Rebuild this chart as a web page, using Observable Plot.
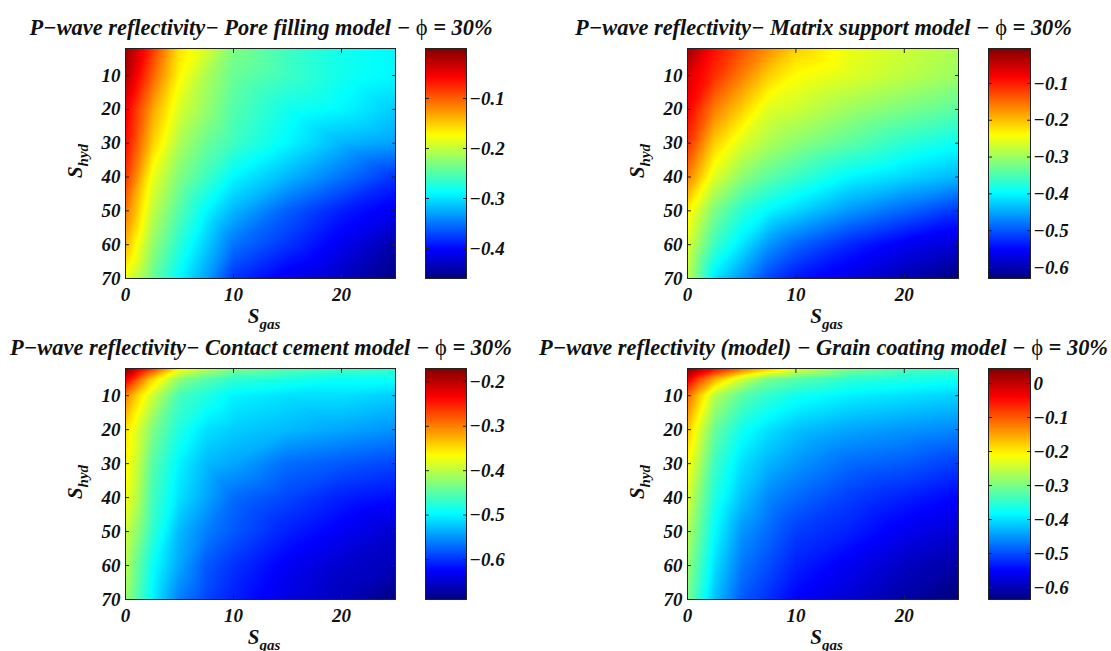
<!DOCTYPE html>
<html>
<head>
<meta charset="utf-8">
<script src="https://cdn.jsdelivr.net/npm/d3@7"></script>
<script src="https://cdn.jsdelivr.net/npm/@observablehq/plot@0.6"></script>
<style>
  html, body { margin: 0; padding: 0; background: #fff; }
  #root { position: relative; width: 1111px; height: 651px; overflow: hidden; background: #fff;
          font-family: "Liberation Serif", "DejaVu Serif", serif; font-weight: bold; font-style: italic; color: #111; }
  .title { position: absolute; font-size: 22.4px; white-space: nowrap; transform: translate(-50%, -50%); }
  .title .phi { font-style: normal; font-weight: normal; }
  .lab { position: absolute; font-size: 21px; white-space: nowrap; transform: translate(-50%, -50%); }
  .lab sub { font-size: 15px; vertical-align: -6px; }
  .rot { transform: translate(-50%, -50%) rotate(-90deg); }
</style>
</head>
<body>
<div id="root"></div>
<script>
// ---------- data ----------
// top panels: coarse grid
const sGasTop = [0, 2.5, 5, 7.5, 10, 15, 20, 25];          // S_gas (%)
const sHydTop = [2, 10, 20, 30, 40, 50, 60, 70];           // S_hyd (%)
// bottom panels: grid with extra samples near the sharp top-left corner
const sGasBottom = [0, 1, 2.5, 5, 7.5, 10, 15, 20, 25];
const sHydBottom = [2, 5, 10, 20, 30, 40, 50, 60, 70];

const poreFilling = [
  [-0.01, -0.08, -0.16, -0.19, -0.23, -0.26, -0.28, -0.29],
  [-0.02, -0.10, -0.17, -0.21, -0.24, -0.26, -0.28, -0.29],
  [-0.05, -0.13, -0.19, -0.22, -0.25, -0.28, -0.29, -0.31],
  [-0.06, -0.15, -0.21, -0.24, -0.26, -0.29, -0.32, -0.33],
  [-0.08, -0.18, -0.23, -0.26, -0.29, -0.32, -0.35, -0.38],
  [-0.11, -0.20, -0.25, -0.29, -0.32, -0.36, -0.39, -0.41],
  [-0.14, -0.22, -0.27, -0.31, -0.35, -0.38, -0.41, -0.44],
  [-0.18, -0.24, -0.29, -0.33, -0.38, -0.41, -0.43, -0.46]
];
const matrixSupport = [
  [-0.02, -0.09, -0.13, -0.17, -0.21, -0.25, -0.27, -0.29],
  [-0.06, -0.11, -0.16, -0.21, -0.24, -0.26, -0.28, -0.30],
  [-0.08, -0.16, -0.21, -0.26, -0.27, -0.30, -0.32, -0.34],
  [-0.11, -0.21, -0.26, -0.29, -0.31, -0.34, -0.37, -0.39],
  [-0.16, -0.26, -0.31, -0.34, -0.36, -0.40, -0.42, -0.44],
  [-0.23, -0.32, -0.37, -0.40, -0.42, -0.46, -0.49, -0.52],
  [-0.26, -0.36, -0.41, -0.46, -0.49, -0.53, -0.56, -0.58],
  [-0.28, -0.41, -0.46, -0.51, -0.54, -0.57, -0.60, -0.63]
];
const contactCement = [
  [-0.17, -0.21, -0.26, -0.36, -0.40, -0.43, -0.45, -0.46, -0.47],
  [-0.22, -0.27, -0.34, -0.42, -0.45, -0.47, -0.48, -0.49, -0.49],
  [-0.30, -0.34, -0.39, -0.46, -0.48, -0.50, -0.51, -0.51, -0.52],
  [-0.35, -0.38, -0.43, -0.48, -0.51, -0.52, -0.53, -0.54, -0.55],
  [-0.36, -0.39, -0.45, -0.50, -0.53, -0.54, -0.57, -0.58, -0.59],
  [-0.37, -0.40, -0.46, -0.51, -0.54, -0.57, -0.59, -0.61, -0.62],
  [-0.39, -0.42, -0.47, -0.53, -0.56, -0.58, -0.61, -0.63, -0.65],
  [-0.40, -0.44, -0.49, -0.54, -0.58, -0.60, -0.63, -0.65, -0.66],
  [-0.42, -0.45, -0.50, -0.56, -0.59, -0.61, -0.64, -0.66, -0.69]
];
const grainCoating = [
  [ 0.04,  0.01, -0.04, -0.11, -0.17, -0.23, -0.30, -0.33, -0.34],
  [-0.02, -0.08, -0.15, -0.24, -0.30, -0.32, -0.35, -0.36, -0.37],
  [-0.11, -0.17, -0.26, -0.32, -0.35, -0.37, -0.39, -0.40, -0.41],
  [-0.17, -0.23, -0.31, -0.37, -0.40, -0.42, -0.44, -0.45, -0.46],
  [-0.21, -0.26, -0.34, -0.40, -0.43, -0.45, -0.48, -0.49, -0.51],
  [-0.23, -0.29, -0.36, -0.42, -0.46, -0.48, -0.51, -0.53, -0.55],
  [-0.26, -0.31, -0.38, -0.45, -0.48, -0.51, -0.53, -0.56, -0.58],
  [-0.28, -0.33, -0.40, -0.47, -0.50, -0.53, -0.56, -0.59, -0.61],
  [-0.30, -0.35, -0.42, -0.49, -0.52, -0.55, -0.58, -0.61, -0.64]
];

const xTicks = [0, 10, 20];
const yTicks = [10, 20, 30, 40, 50, 60, 70];
const cbTicksPore = [-0.1, -0.2, -0.3, -0.4];
const cbTicksMatrix = [-0.1, -0.2, -0.3, -0.4, -0.5, -0.6];
const cbTicksCement = [-0.2, -0.3, -0.4, -0.5, -0.6];
const cbTicksGrain = [0, -0.1, -0.2, -0.3, -0.4, -0.5, -0.6];
const colorRangePore = [-0.46, 0.0];
const colorRangeMatrix = [-0.63, -0.005];
const colorRangeCement = [-0.69, -0.17];
const colorRangeGrain = [-0.635, 0.044];

const titles = [
  ["P−wave reflectivity− Pore filling model − ", " = 30%"],
  ["P−wave reflectivity− Matrix support model − ", " = 30%"],
  ["P−wave reflectivity− Contact cement model − ", " = 30%"],
  ["P−wave reflectivity (model) − Grain coating model − ", " = 30%"]
];

// ---------- jet colormap ----------
function jet(t) {
  const c = v => Math.max(0, Math.min(1, v));
  const r = c(1.5 - Math.abs(4 * t - 3));
  const g = c(1.5 - Math.abs(4 * t - 2));
  const b = c(1.5 - Math.abs(4 * t - 1));
  return `rgb(${Math.round(r * 255)},${Math.round(g * 255)},${Math.round(b * 255)})`;
}

const fmt = d => d === 0 ? "0" : d3.format("")(d);
const axisStyle = { fontFamily: "'Liberation Serif', serif", fontSize: "19px", fontWeight: "bold", fontStyle: "italic", background: "transparent", color: "#111", overflow: "visible" };

const panels = [
  { values: poreFilling,   xs: sGasTop,    ys: sHydTop,    range: colorRangePore,   cb: cbTicksPore,   L: 125, T: 48,  W: 270, H: 230, CL: 425, CW: 41 },
  { values: matrixSupport, xs: sGasTop,    ys: sHydTop,    range: colorRangeMatrix, cb: cbTicksMatrix, L: 687, T: 48,  W: 271, H: 230, CL: 988, CW: 42 },
  { values: contactCement, xs: sGasBottom, ys: sHydBottom, range: colorRangeCement, cb: cbTicksCement, L: 125, T: 368, W: 270, H: 231, CL: 425, CW: 41 },
  { values: grainCoating,  xs: sGasBottom, ys: sHydBottom, range: colorRangeGrain,  cb: cbTicksGrain,  L: 687, T: 368, W: 271, H: 231, CL: 988, CW: 42 }
];

const root = document.getElementById("root");

panels.forEach((p, k) => {
  const data = p.ys.flatMap((h, i) => p.xs.map((g, j) => ({ g, h, v: p.values[i][j] })));
  const ML = 50, MR = 6, MT = 6, MB = 34;
  const heat = Plot.plot({
    width: p.W + ML + MR, height: p.H + MT + MB,
    marginLeft: ML, marginRight: MR, marginTop: MT, marginBottom: MB,
    style: axisStyle,
    x: { domain: [0, 25] },
    y: { domain: [2, 70], reverse: true },
    color: { type: "linear", domain: p.range, interpolate: jet },
    marks: [
      Plot.raster(data, { x: "g", y: "h", fill: "v", interpolate: "barycentric" }),
      Plot.frame({ stroke: "#222" }),
      Plot.axisX(xTicks, { anchor: "bottom", tickSize: -4, tickPadding: 13, label: null, tickFormat: fmt, stroke: "#222" }),
      Plot.axisX(xTicks, { anchor: "top", tickSize: -4, label: null, tickFormat: () => "", stroke: "#222" }),
      Plot.axisY(yTicks, { anchor: "left", tickSize: -4, tickPadding: 9, label: null, tickFormat: fmt, stroke: "#222" }),
      Plot.axisY(yTicks, { anchor: "right", tickSize: -4, label: null, tickFormat: () => "", stroke: "#222" })
    ]
  });
  heat.style.position = "absolute";
  heat.style.left = (p.L - ML) + "px";
  heat.style.top = (p.T - MT) + "px";
  root.appendChild(heat);

  const CMR = 60;
  const bar = Plot.plot({
    width: p.CW + CMR, height: p.H + MT + MB,
    marginLeft: 0, marginRight: CMR, marginTop: MT, marginBottom: MB,
    style: axisStyle,
    x: { domain: [0, 1], axis: null },
    y: { domain: p.range },
    color: { type: "linear", domain: p.range, interpolate: jet },
    marks: [
      Plot.raster({ x1: 0, x2: 1, y1: p.range[0], y2: p.range[1], fill: (x, y) => y, pixelSize: 1 }),
      Plot.frame({ stroke: "#222" }),
      Plot.axisY(p.cb, { anchor: "right", tickSize: -4, tickPadding: 7, label: null, tickFormat: fmt, stroke: "#222" }),
      Plot.axisY(p.cb, { anchor: "left", tickSize: -4, label: null, tickFormat: () => "", stroke: "#222" })
    ]
  });
  bar.style.position = "absolute";
  bar.style.left = p.CL + "px";
  bar.style.top = (p.T - MT) + "px";
  root.appendChild(bar);

  // title
  const t = document.createElement("div");
  t.className = "title";
  t.style.left = (p.L + p.W / 2 + 1) + "px";
  t.style.top = (p.T - 20) + "px";
  t.innerHTML = titles[k][0] + '<span class="phi">ϕ</span>' + titles[k][1];
  root.appendChild(t);

  // x label
  const xl = document.createElement("div");
  xl.className = "lab";
  xl.style.left = (p.L + p.W / 2 + 4) + "px";
  xl.style.top = (p.T + p.H + 40) + "px";
  xl.innerHTML = "S<sub>gas</sub>";
  root.appendChild(xl);

  // y label
  const yl = document.createElement("div");
  yl.className = "lab rot";
  yl.style.left = (p.L - 48) + "px";
  yl.style.top = (p.T + p.H / 2 - 2) + "px";
  yl.innerHTML = "S<sub>hyd</sub>";
  root.appendChild(yl);
});
</script>
</body>
</html>
